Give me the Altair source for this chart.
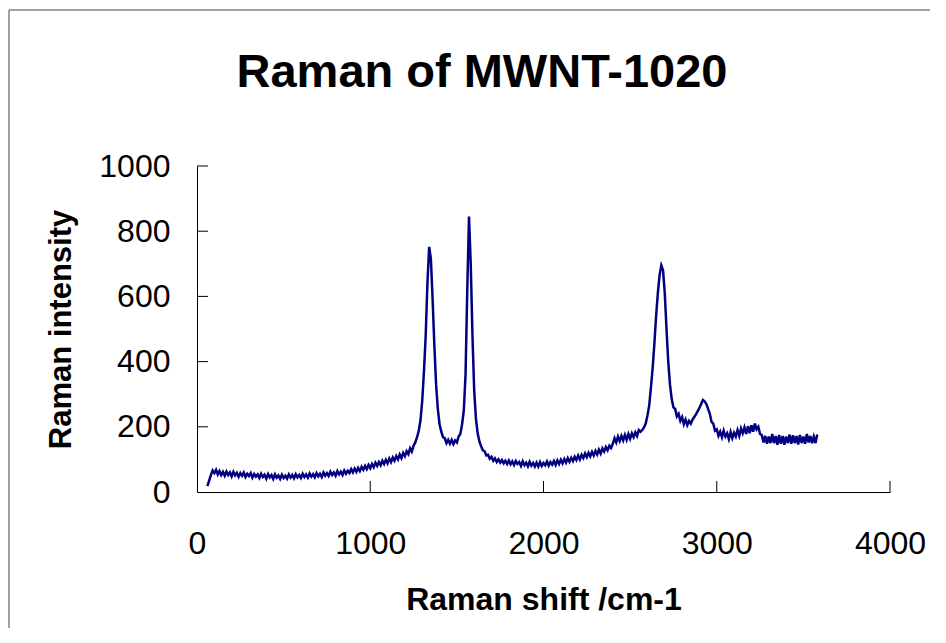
import altair as alt
import pandas as pd

title_text = "Raman of MWNT-1020"
x_title = "Raman shift /cm-1"
y_title = "Raman intensity"
x_ticks = [0, 1000, 2000, 3000, 4000]
y_ticks = [0, 200, 400, 600, 800, 1000]

# Raman shift sampling grid (cm-1)
shift = list(range(60, 3590, 10))
# intensity (noisy trace), one row per 100 cm-1
intensity = [
    18, 35, 52, 66, 58, 68, 54, 64, 52, 62,            # 60
    50, 63, 52, 60, 48, 62, 51, 59, 47, 58,            # 160
    50, 60, 46, 56, 49, 58, 44, 55, 47, 54,            # 260
    43, 56, 46, 53, 41, 55, 45, 52, 40, 54,            # 360
    44, 51, 40, 53, 43, 50, 41, 54, 44, 52,            # 460
    42, 55, 45, 52, 43, 56, 46, 54, 44, 57,            # 560
    47, 55, 45, 58, 48, 56, 46, 60, 50, 58,            # 660
    49, 62, 52, 60, 50, 64, 54, 62, 52, 66,            # 760
    56, 65, 58, 70, 60, 72, 62, 74, 64, 77,            # 860
    68, 80, 70, 83, 73, 86, 76, 90, 80, 92,            # 960
    82, 96, 86, 99, 88, 103, 92, 106, 96, 110,         # 1060
    100, 115, 104, 120, 110, 125, 116, 134, 124, 142,  # 1160
    152, 168, 188, 220, 280, 370, 480, 640, 752, 715,  # 1260
    590, 450, 330, 255, 208, 185, 168, 165, 150, 160,  # 1360
    148, 160, 147, 158, 152, 170, 178, 208, 250, 360,  # 1460
    620, 845, 700, 480, 310, 225, 180, 155, 140, 128,  # 1560
    125, 112, 114, 102, 108, 96, 103, 92, 100, 90,     # 1660
    98, 88, 96, 86, 97, 85, 94, 83, 95, 86,            # 1760
    92, 80, 94, 82, 90, 79, 93, 81, 89, 78,            # 1860
    90, 78, 92, 80, 89, 82, 94, 81, 92, 84,            # 1960
    95, 83, 97, 86, 99, 88, 101, 90, 104, 93,          # 2060
    105, 95, 108, 98, 112, 100, 114, 104, 118, 107,    # 2160
    120, 109, 123, 112, 126, 115, 130, 118, 134, 124,  # 2260
    138, 128, 142, 135, 148, 165, 152, 170, 156, 172,  # 2360
    158, 175, 160, 178, 163, 180, 168, 183, 172, 190,  # 2460
    185, 190, 198, 210, 235, 265, 320, 380, 455, 540,  # 2560
    610, 665, 695, 680, 610, 500, 400, 330, 285, 260,  # 2660
    255, 232, 240, 218, 230, 208, 222, 205, 218, 210,  # 2760
    222, 230, 238, 248, 258, 270, 282, 278, 270, 255,  # 2860
    240, 215, 210, 188, 192, 172, 185, 168, 188, 170,  # 2960
    180, 162, 184, 165, 182, 170, 190, 172, 195, 180,  # 3060
    198, 178, 202, 180, 205, 185, 210, 192, 200, 178,  # 3160
    175, 152, 172, 148, 170, 150, 178, 150, 172, 145,  # 3260
    175, 148, 172, 145, 170, 150, 176, 148, 174, 150,  # 3360
    172, 146, 175, 150, 170, 148, 178, 152, 172, 150,  # 3460
    170, 150, 176,                                     # 3560
]

W, H = 693, 326
FONT = "Liberation Sans"

df = pd.DataFrame({"shift": shift, "intensity": intensity})

xscale = alt.Scale(domain=[0, 4000], nice=False, zero=False)
yscale = alt.Scale(domain=[0, 1000], nice=False)

xaxis = alt.Axis(
    values=x_ticks, title=x_title, grid=False, ticks=False, tickSize=0,
    labelPadding=36, labelFontSize=32, labelFont=FONT, labelColor="black",
    labelFlush=False, labelOverlap=False, format="d",
    domainColor="black", domainWidth=1,
    titleFont=FONT, titleFontSize=32, titleFontWeight="bold", titleColor="black",
    titleBaseline="alphabetic", titleAlign="center", titleX=W / 2, titleY=117,
)
yaxis = alt.Axis(
    values=y_ticks, title=y_title, grid=False, ticks=False, tickSize=0,
    labelPadding=27, labelFontSize=32, labelFont=FONT, labelColor="black",
    labelFlush=False, labelOverlap=False, format="d",
    domainColor="black", domainWidth=1,
    titleFont=FONT, titleFontSize=31, titleFontWeight="bold", titleColor="black",
    titleBaseline="alphabetic", titleAlign="center", titleAngle=270,
    titleX=-127, titleY=H / 2,
)

line = alt.Chart(df).mark_line(color="#000080", strokeWidth=2.5).encode(
    x=alt.X("shift:Q", scale=xscale, axis=xaxis),
    y=alt.Y("intensity:Q", scale=yscale, axis=yaxis),
)

xt = alt.Chart(pd.DataFrame({"shift": x_ticks[1:]})).mark_rule(
    color="black", strokeWidth=1
).encode(
    x=alt.X("shift:Q", scale=xscale, axis=xaxis),
    y=alt.value(H), y2=alt.value(H - 11),
)
yt = alt.Chart(pd.DataFrame({"intensity": y_ticks[1:]})).mark_rule(
    color="black", strokeWidth=1
).encode(
    y=alt.Y("intensity:Q", scale=yscale, axis=yaxis),
    x=alt.value(0), x2=alt.value(11),
)

one = pd.DataFrame({"t": [title_text]})
border_top = alt.Chart(one).mark_rule(color="#808080", strokeWidth=1.5).encode(
    x=alt.value(-188), x2=alt.value(800), y=alt.value(-156)
)
border_left = alt.Chart(one).mark_rule(color="#808080", strokeWidth=1.5).encode(
    x=alt.value(-188), y=alt.value(-156), y2=alt.value(700)
)
title = alt.Chart(one).mark_text(
    font=FONT, fontSize=47, fontWeight="bold", align="center",
    baseline="alphabetic", color="black",
).encode(text="t:N", x=alt.value(285), y=alt.value(-79))

chart = alt.layer(border_top, border_left, line, xt, yt, title).properties(
    width=W, height=H,
    padding={"left": 189, "top": 158, "right": 40, "bottom": 136},
    autosize=alt.AutoSizeParams(type="none"),
    background="white",
).configure_view(stroke=None)

chart.save("out.html", embed_options={"renderer": "svg", "actions": False})
